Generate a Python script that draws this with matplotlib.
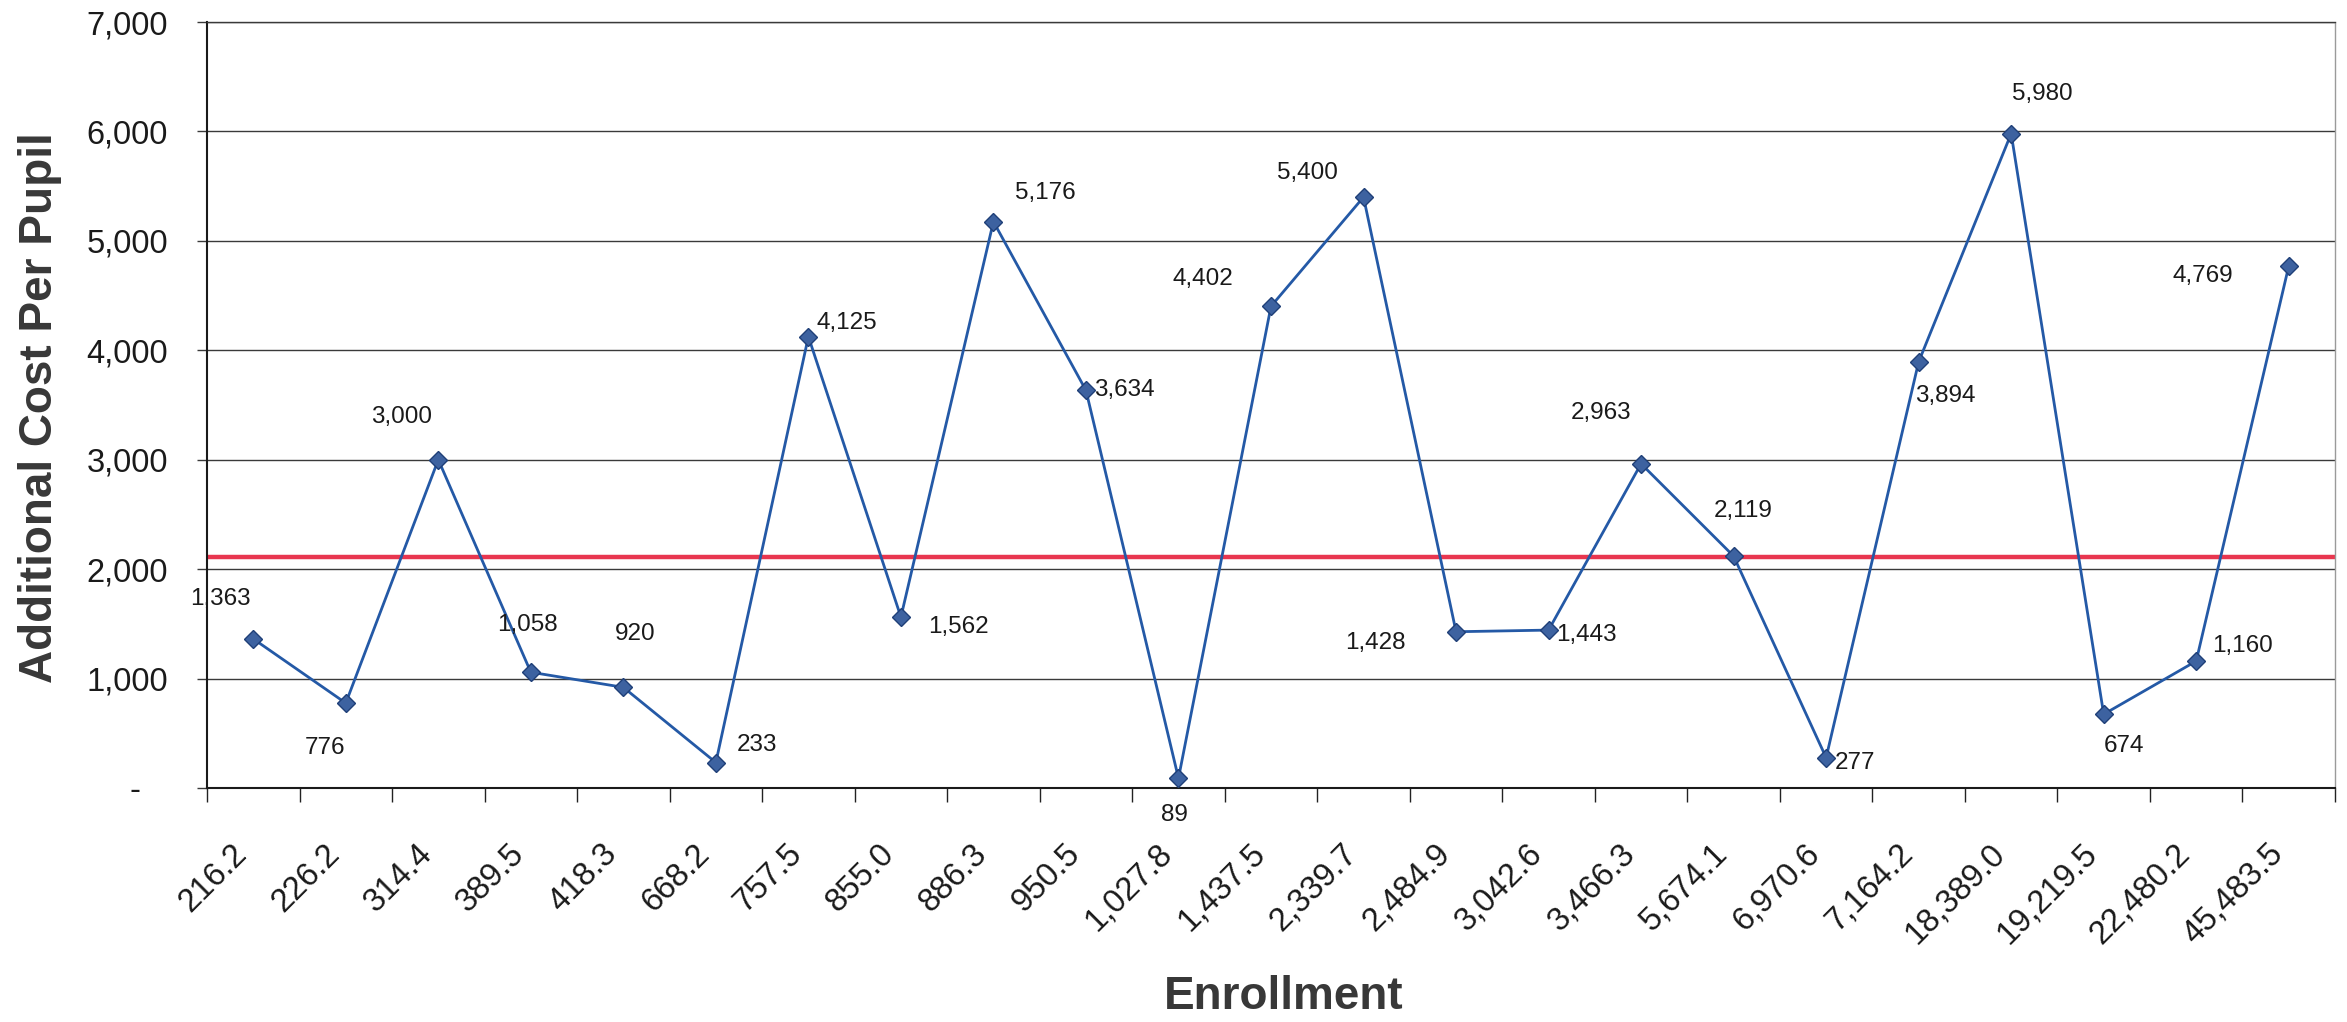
import numpy as np
import matplotlib
matplotlib.use("Agg")
import matplotlib.pyplot as plt
from matplotlib.ticker import FixedLocator, FuncFormatter

plt.rcParams['font.family'] = ['Liberation Sans', 'DejaVu Sans']

# Enrollment categories (x axis) and additional cost per pupil (y axis)
enrollment = ["216.2", "226.2", "314.4", "389.5", "418.3", "668.2", "757.5",
              "855.0", "886.3", "950.5", "1,027.8", "1,437.5", "2,339.7",
              "2,484.9", "3,042.6", "3,466.3", "5,674.1", "6,970.6", "7,164.2",
              "18,389.0", "19,219.5", "22,480.2", "45,483.5"]
cost_per_pupil = [1363, 776, 3000, 1058, 920, 233, 4125, 1562, 5176, 3634, 89,
                  4402, 5400, 1428, 1443, 2963, 2119, 277, 3894, 5980, 674,
                  1160, 4769]
reference_cost = 2110
y_ticks = [0, 1000, 2000, 3000, 4000, 5000, 6000, 7000]

# Where each value label sits relative to its marker (pixels, y up)
label_offsets = [(-33, 40), (-21, -45), (-37, 43), (-3, 47), (12, 53),
                 (41, 18), (38, 14), (58, -10), (52, 29), (38, 0), (-4, -37),
                 (-68, 27), (-56, 24), (-81, -11), (38, -5), (-40, 51),
                 (10, 45), (29, -5), (27, -34), (31, 40), (20, -32),
                 (46, 15), (-86, -10)]

W, H = 2347, 1022
fig = plt.figure(figsize=(W / 100, H / 100), dpi=100)
fig.patch.set_facecolor("white")
left, right, top, bottom = 207, 2335, 22, 788
ax = fig.add_axes([left / W, 1 - bottom / H, (right - left) / W, (bottom - top) / H])

n = len(enrollment)
xpos = np.arange(n) + 0.5

ax.set_xlim(0, n)
ax.set_ylim(y_ticks[0], y_ticks[-1])

# horizontal grid
for yv in y_ticks[1:]:
    ax.axhline(yv, color="#3a3a3a", lw=1.0, zorder=1)

# reference level
ax.axhline(reference_cost, color="#e8364f", lw=3.2, zorder=2)

# series
ax.plot(xpos, cost_per_pupil, color="#2459a6", lw=2.0, zorder=3,
        marker="D", markersize=9, markerfacecolor="#3d62a0",
        markeredgecolor="#1f3f78", markeredgewidth=1.0)

for xp, val, (dx, dy) in zip(xpos, cost_per_pupil, label_offsets):
    ax.annotate(f"{val:,}", (xp, val), xytext=(dx, dy),
                textcoords="offset pixels", ha="center", va="center",
                fontsize=17.5, color="#1a1a1a", zorder=4)

# y axis
ax.yaxis.set_major_locator(FixedLocator(y_ticks))
ax.yaxis.set_major_formatter(FuncFormatter(
    lambda v, p: "-   " if v == 0 else f"{int(v):,}"))
ax.tick_params(axis="y", length=7, width=1.0, color="#3a3a3a", pad=21,
               labelsize=23.5, labelcolor="#1a1a1a")

# x axis: tick marks between categories, labels at category centers
ax.xaxis.set_major_locator(FixedLocator(np.arange(n + 1)))
ax.xaxis.set_major_formatter(FuncFormatter(lambda v, p: ""))
ax.xaxis.set_minor_locator(FixedLocator(xpos))
ax.set_xticks(xpos, enrollment, minor=True)
ax.tick_params(axis="x", which="major", length=10, width=1.0, color="#222222")
ax.tick_params(axis="x", which="minor", length=0, pad=36, labelsize=23.5,
               labelcolor="#1a1a1a")
for lbl in ax.get_xticklabels(minor=True):
    lbl.set_rotation(45)
    lbl.set_ha("right")
    lbl.set_va("top")

for side in ("left", "bottom"):
    ax.spines[side].set_color("#1a1a1a")
    ax.spines[side].set_linewidth(1.5)
ax.spines["top"].set_color("#3a3a3a")
ax.spines["top"].set_linewidth(1.0)
ax.spines["right"].set_color("#9a9a9a")
ax.spines["right"].set_linewidth(1.0)
ax.spines["right"].set_linestyle((0, (2, 1)))

fig.text(40 / W, 1 - 408 / H, "Additional Cost Per Pupil", rotation=90,
         ha="center", va="center", fontsize=33, fontweight="bold",
         color="#383838")
fig.text(1284 / W, 1 - 997 / H, "Enrollment", ha="center", va="center",
         fontsize=33, fontweight="bold", color="#383838")

fig.savefig("out.png", dpi=100, facecolor="white")
